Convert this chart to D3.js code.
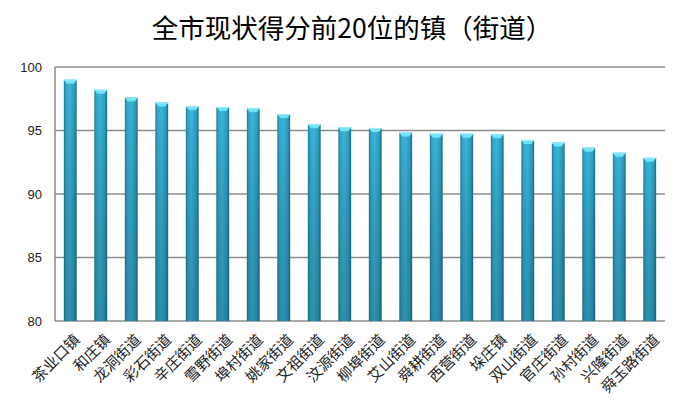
<!DOCTYPE html>
<html>
  <head>
    <meta charset="utf-8">
    <title>全市现状得分前20位的镇（街道）</title>
    <style>
      body { margin: 0; background: #fff; }
      .title { font: 26.5px "Noto Sans CJK SC", sans-serif; fill: #000; }
      .ytick text { font: 13px "Liberation Sans", sans-serif; fill: #222; }
      .xlab { font: 15px "Noto Sans CJK SC", sans-serif; fill: #222; }
      .grid { stroke: #8c8c8c; stroke-width: 1.5px; }
    </style>
  </head>
  <body>
    <div id="chart"></div>
    <script src="https://d3js.org/d3.v7.min.js"></script>
    <script>
      // Town / subdistrict names and their scores
      const towns = ["茶业口镇", "和庄镇", "龙洞街道", "彩石街道", "辛庄街道", "雪野街道", "埠村街道",
        "姚家街道", "文祖街道", "汶源街道", "柳埠街道", "艾山街道", "舜耕街道", "西营街道",
        "垛庄镇", "双山街道", "官庄街道", "孙村街道", "兴隆街道", "舜玉路街道"];
      const scores = [99.0, 98.2, 97.6, 97.2, 96.9, 96.85, 96.75, 96.3, 95.5, 95.25,
        95.2, 94.85, 94.75, 94.75, 94.7, 94.25, 94.05, 93.65, 93.25, 92.85];
      const yTicks = [80, 85, 90, 95, 100];

      const width = 700, height = 406;
      const margin = { top: 67, right: 35, bottom: 85, left: 55 };

      const svg = d3.select("#chart").append("svg")
          .attr("width", width)
          .attr("height", height);

      // gradients for the cylinder-ish bars
      const defs = svg.append("defs");
      const hg = defs.append("linearGradient").attr("id", "barH").attr("x1", 0).attr("x2", 1);
      hg.append("stop").attr("offset", "0%").attr("stop-color", "#1f7e97");
      hg.append("stop").attr("offset", "18%").attr("stop-color", "#34a9cb");
      hg.append("stop").attr("offset", "45%").attr("stop-color", "#3ab6dc");
      hg.append("stop").attr("offset", "80%").attr("stop-color", "#2f9fc0");
      hg.append("stop").attr("offset", "100%").attr("stop-color", "#1b6f86");
      const vg = defs.append("linearGradient").attr("id", "barV").attr("x1", 0).attr("x2", 0).attr("y1", 0).attr("y2", 1);
      vg.append("stop").attr("offset", "0%").attr("stop-color", "#000").attr("stop-opacity", 0);
      vg.append("stop").attr("offset", "100%").attr("stop-color", "#0b3d4d").attr("stop-opacity", 0.3);

      const x = d3.scaleBand()
          .domain(towns)
          .range([margin.left, width - margin.right])
          .paddingInner(0.58)
          .paddingOuter(0.29);

      const y = d3.scaleLinear()
          .domain([80, 100])
          .range([height - margin.bottom, margin.top]);

      // title
      svg.append("text")
          .attr("class", "title")
          .attr("x", 352)
          .attr("y", 38)
          .attr("text-anchor", "middle")
          .text("全市现状得分前20位的镇（街道）");

      // gridlines
      svg.append("g").selectAll("line")
        .data(yTicks)
        .join("line")
          .attr("class", "grid")
          .attr("x1", margin.left)
          .attr("x2", width - margin.right)
          .attr("y1", d => y(d))
          .attr("y2", d => y(d));

      // left axis line
      svg.append("line")
          .attr("class", "grid")
          .attr("x1", margin.left).attr("x2", margin.left)
          .attr("y1", y(100)).attr("y2", y(80));

      // y tick labels
      const yAxis = d3.axisLeft(y).tickValues(yTicks).tickSize(0).tickPadding(13);
      svg.append("g")
          .attr("class", "ytick")
          .attr("transform", `translate(${margin.left},0)`)
          .call(yAxis)
          .call(g => g.select(".domain").remove());

      // bars
      const bars = svg.append("g").selectAll("g")
        .data(towns.map((t, i) => ({ town: t, score: scores[i] })))
        .join("g");

      bars.append("rect")
          .attr("x", d => x(d.town))
          .attr("y", d => y(d.score))
          .attr("width", x.bandwidth())
          .attr("height", d => y(80) - y(d.score))
          .attr("fill", "url(#barH)");

      bars.append("rect")
          .attr("x", d => x(d.town))
          .attr("y", d => y(d.score))
          .attr("width", x.bandwidth())
          .attr("height", d => y(80) - y(d.score))
          .attr("fill", "url(#barV)");

      // light cap on top of each bar
      bars.append("path")
          .attr("d", d => {
            const x0 = x(d.town), w = x.bandwidth(), t = y(d.score);
            return `M${x0},${t}L${x0 + w},${t}L${x0 + w * 0.78},${t + 4}L${x0 + w * 0.22},${t + 4}Z`;
          })
          .attr("fill", "#6fe3f7");
      bars.append("line")
          .attr("x1", d => x(d.town)).attr("x2", d => x(d.town) + x.bandwidth())
          .attr("y1", d => y(d.score) + 0.5).attr("y2", d => y(d.score) + 0.5)
          .attr("stroke", "#9cecfa").attr("stroke-width", 1);

      // x labels, rotated
      svg.append("g").selectAll("text")
        .data(towns)
        .join("text")
          .attr("class", "xlab")
          .attr("text-anchor", "end")
          .attr("transform", d => `translate(${x(d) + x.bandwidth() / 2 + 7},${y(80) + 16}) rotate(-45)`)
          .attr("dy", "0.35em")
          .text(d => d);
    </script>
  </body>
</html>
